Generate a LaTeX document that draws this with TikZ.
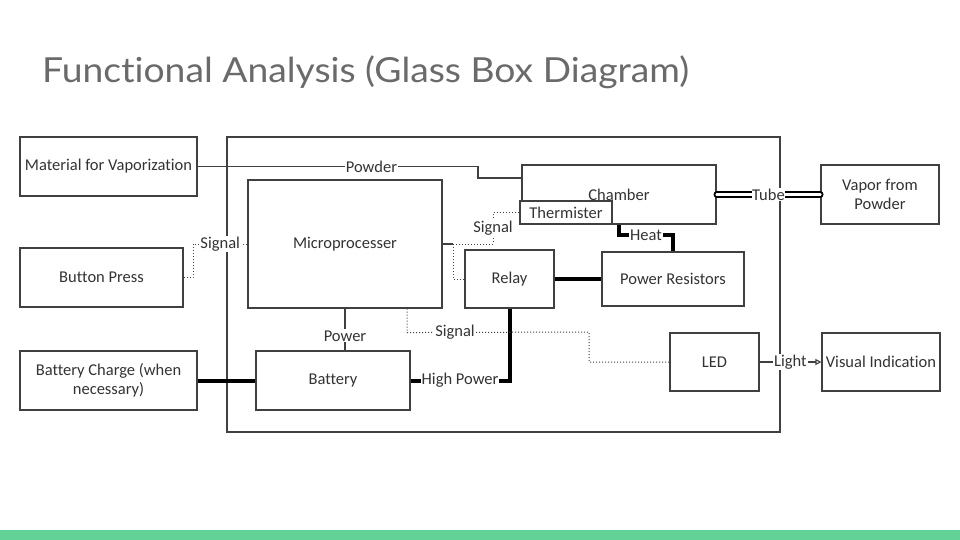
\documentclass[tikz,border=0pt]{standalone}
\usepackage{fontspec}
\setmainfont{Carlito}[Ligatures=NoCommon]
\newfontfamily\titlefont{Lato}[FakeStretch=1.08, Ligatures=NoCommon]
\usetikzlibrary{arrows.meta}
\definecolor{linegray}{HTML}{404040}
\definecolor{txtgray}{HTML}{333333}
\definecolor{titlegray}{HTML}{6A6A6A}
\definecolor{barcolor}{HTML}{63D297}
\tikzset{
  blk/.style={draw=linegray, line width=1.1pt, fill=white, inner sep=0pt, align=center,
    font=\fontsize{16.5}{19}\selectfont, text=txtgray},
  lbl/.style={fill=white, inner sep=1pt, font=\fontsize{16.5}{19}\selectfont, text=txtgray},
  conn/.style={draw=linegray, line width=1.1pt},
  sig/.style={draw=linegray, line width=1pt, dotted},
  hpow/.style={draw=black, line width=4pt},
  tube/.style={draw=black, double=white, double distance=2.5pt, line width=1.8pt, line cap=round}
}
\begin{document}
\begin{tikzpicture}[x=1pt,y=-1pt]
\useasboundingbox (0,0) rectangle (960,540);
\fill[white] (0,0) rectangle (960,540);
\fill[barcolor] (0,530) rectangle (960,540);
\node[anchor=base west, inner sep=0pt, text=titlegray, font=\titlefont\fontsize{34.5}{38}\selectfont] (title) at (42,83) {Functional Analysis (Glass Box Diagram)};

% outer glass box
\draw[linegray, line width=1.1pt] (227,137) rectangle (780,432);

% blocks
\node[blk, minimum width=177pt, minimum height=59pt] (mat) at (108.5,166.5) {Material for Vaporization};
\node[blk, minimum width=163pt, minimum height=59pt] (btn) at (101.5,277.5) {Button Press};
\node[blk, minimum width=177pt, minimum height=59pt] (bc) at (108.5,380.5) {Battery Charge (when\\necessary)};
\node[blk, minimum width=194pt, minimum height=128pt] (micro) at (345,244) {Microprocesser};
\node[blk, minimum width=154pt, minimum height=59pt] (bat) at (333,380.5) {Battery};
\node[blk, minimum width=89pt, minimum height=58pt] (relay) at (509.5,279) {Relay};
\node[blk, minimum width=142pt, minimum height=54pt] (pr) at (673,279) {Power Resistors};
\node[blk, minimum width=194pt, minimum height=59pt] (ch) at (619,194.5) {Chamber};
\node[blk, minimum width=92pt, minimum height=23pt] (th) at (566,212.5) {Thermister};
\node[blk, minimum width=118pt, minimum height=59pt] (vap) at (880,194.5) {Vapor from\\Powder};
\node[blk, minimum width=89pt, minimum height=58pt] (led) at (714.5,362) {LED};
\node[blk, minimum width=118pt, minimum height=58pt] (vis) at (881,362) {Visual Indication};

% junction points
\coordinate (j1) at (453,244);
\coordinate (j2) at (493,244);

% Powder
\draw[conn] (mat.east) -- node[lbl, pos=0.62]{Powder} (478,166.5) -- (478,178) -- (ch.west |- 0,178);
% Button signal
\draw[sig] (btn.east) -- (193,277.5) -- (193,244) -- node[lbl]{Signal} (micro.west);
% Micro to thermister / relay
\draw[conn] (micro.east) -- (j1);
\draw[sig] (j1) -- (j2) -- node[lbl]{Signal} (j2 |- th.west) -- (th.west);
\draw[sig] (j1) -- (j1 |- relay.west) -- (relay.west);
% Power
\draw[conn] (micro.south) -- node[lbl, pos=0.65]{Power} (micro.south |- bat.north);
% Battery charge
\draw[hpow] (bc.east) -- (bat.west);
% High power
\draw[hpow] (bat.east) -- node[lbl]{High Power} (relay.south |- bat.east) -- (relay.south);
% Relay to power resistors
\draw[hpow] (relay.east) -- (pr.west);
% Bottom signal to LED
\draw[sig] ([xshift=62pt]micro.south) -- ++(0,24) -- node[lbl, pos=0.264]{Signal} (589,332) -- (589,362) -- (led.west);
% Heat
\draw[hpow, line width=3.5pt] (ch.south) -- (619,235) -- node[lbl]{Heat} (pr.north |- 0,235) -- (pr.north);
% Tube
\draw[tube] (ch.east) -- node[lbl, inner sep=0.5pt]{Tube} (vap.west);
% Light
\draw[conn, -{Triangle[open, length=6pt, width=6pt]}] (led.east) -- node[lbl]{Light} (vis.west);
\end{tikzpicture}
\end{document}
